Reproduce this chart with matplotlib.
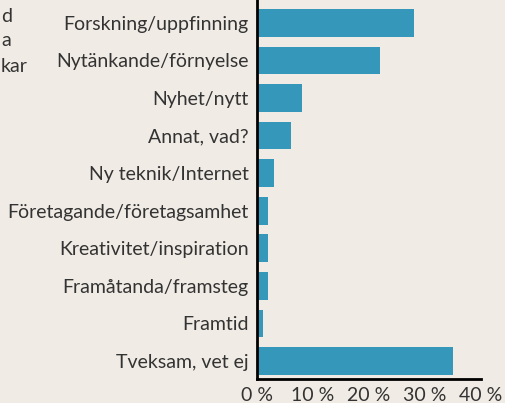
import matplotlib
matplotlib.use("Agg")
import matplotlib.pyplot as plt

categories = [
    "Forskning/uppfinning",
    "Nytänkande/förnyelse",
    "Nyhet/nytt",
    "Annat, vad?",
    "Ny teknik/Internet",
    "Företagande/företagsamhet",
    "Kreativitet/inspiration",
    "Framåtanda/framsteg",
    "Framtid",
    "Tveksam, vet ej",
]
values = [28, 22, 8, 6, 3, 2, 2, 2, 1, 35]
xticks = [0, 10, 20, 30, 40]
xtick_labels = ["0 %", "10 %", "20 %", "30 %", "40 %"]
# word endings of a neighbouring text that the crop cuts off
side_fragments = ["d", "a", "kar"]

BG = "#f0ebe4"
BAR = "#3598bb"
TXT = "#333333"

plt.rcParams["font.family"] = ["Lato", "DejaVu Sans"]

fig = plt.figure(figsize=(5.05, 4.03), dpi=100, facecolor=BG)
ax = fig.add_axes([257 / 505, 1 - 379 / 403, 224 / 505, 379 / 403])
ax.set_facecolor(BG)

ax.barh(range(len(categories)), values, height=0.74, color=BAR)
ax.set_ylim(9.48, -0.61)
ax.set_xlim(0, 40)

ax.set_yticks(range(len(categories)))
ax.set_yticklabels(categories, fontsize=14, color=TXT)
ax.set_xticks(xticks)
ax.set_xticklabels(xtick_labels, fontsize=14, color=TXT)
ax.tick_params(length=0, pad=6)

for side in ("top", "right"):
    ax.spines[side].set_visible(False)
for side in ("left", "bottom"):
    ax.spines[side].set_linewidth(2)
    ax.spines[side].set_color("black")

for y, s in zip((16, 40, 66), side_fragments):
    fig.text(1 / 505, 1 - y / 403, s, ha="left", va="center",
             fontsize=14, color=TXT)

fig.savefig("out.png", dpi=100, facecolor=BG)
